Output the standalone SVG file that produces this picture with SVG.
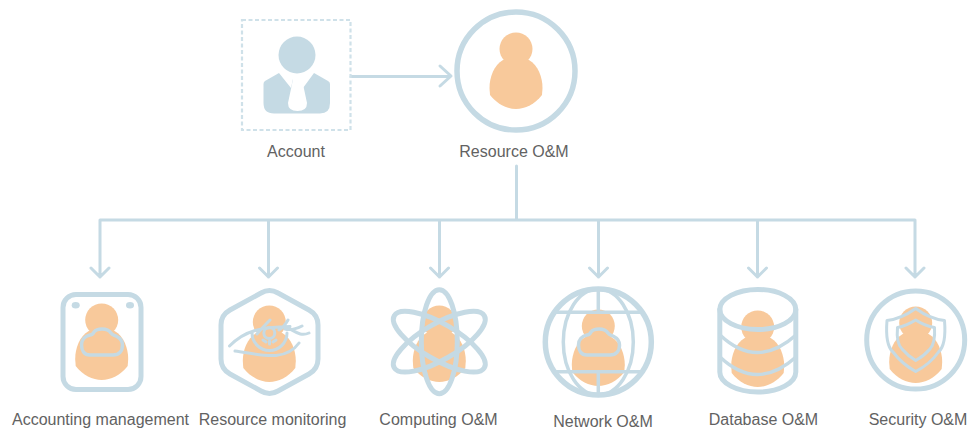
<svg xmlns="http://www.w3.org/2000/svg" xmlns:xlink="http://www.w3.org/1999/xlink" width="971" height="429" viewBox="0 0 971 429">
<style>
.l{fill:none;stroke:#c5dae4;stroke-linecap:round;stroke-linejoin:round}
.w5{stroke-width:5}
.w3{stroke-width:3.5}
.w2{stroke-width:3}
.p{fill:#f8c99b}
text{font-family:"Liberation Sans",Arial,sans-serif;font-size:16px;fill:#626262;text-anchor:middle}
</style>
<defs>
<g id="person"><circle class="p" cx="0" cy="0" r="16.5"/><path class="p" d="M-13,11C-22,16-26.5,28-26.5,39L-26,46C-19,55-9,60 0,60C9,60 19,55 26,46L26.5,39C26.5,28 22,16 13,11Z"/></g>
<path id="cloud" class="l w3" d="M90,355C84,355 81.5,350 81.5,345C81.5,340 85,336 90,335C92,335 93,334 94,332C96,329.500 99,329 102,329C106,329 109,330 111,333C112,335 114,335 116,336C120,338 122.500,341 122.500,345C122.500,351 119,355 113,355Z"/>
</defs>
<rect width="971" height="429" fill="#fff"/>
<g id="connectors">
<path class="l w2" d="M351,76.500H450M440,66L451,76L440,86"/>
<path class="l w2" d="M516.500,166V220M100,220H915M100,220V277M91,268L100,277L109,268M268.500,220V277M259.500,268L268.500,277L277.500,268M439.500,220V277M430.500,268L439.500,277L448.500,268M598.500,220V277M589.500,268L598.500,277L607.500,268M757.500,220V277M748.500,268L757.500,277L766.500,268M915,220V277M906,268L915,277L924,268"/>
</g>
<g id="account">
<rect x="242" y="20" width="108.500" height="110" fill="none" stroke="#cfe1e9" stroke-width="2.200" stroke-dasharray="4 2.500"/>
<circle cx="297" cy="55" r="18.500" fill="#c5dae4"/>
<path fill="#c5dae4" d="M279,73L265,81Q263.500,82 263.500,84V103Q263.500,113.500 274,113.500H320Q330,113.500 330,103V84Q330,82 328,81L314,73L303,88L301,79H293L291,88Z"/>
<path fill="#fff" d="M293.300,78H301.700L307,103Q307,111 297.500,111Q288,111 288,103Z"/>
<text x="296" y="157">Account</text>
</g>
<g id="resource-om">
<circle class="l" stroke-width="5.500" cx="516" cy="71" r="59"/>
<use xlink:href="#person" href="#person" x="516" y="49"/>
<text x="514" y="157">Resource O&amp;M</text>
</g>
<g id="accounting-management">
<use xlink:href="#person" href="#person" x="101.700" y="320"/>
<rect class="l w5" x="63" y="294.500" width="78" height="95" rx="13"/>
<ellipse cx="75.700" cy="305.300" rx="4" ry="3.300" fill="#c5dae4"/>
<ellipse cx="130" cy="305.300" rx="4" ry="3.300" fill="#c5dae4"/>
<use xlink:href="#cloud" href="#cloud"/>
<text x="100.500" y="425">Accounting management</text>
</g>
<g id="resource-monitoring">
<use xlink:href="#person" href="#person" x="269.300" y="322"/>
<path class="l w5" d="M261,293Q269.500,288 278,293L309,310Q318,315 318,325V359Q318,369 309,374L278,391Q269.500,396 261,391L230,374Q221,369 221,359V325Q221,315 230,310Z"/>
<path class="l w2" d="M229.500,346C245,330 262,327 290,326.500M235,351C258,354 285,363 299,343M252,333A17.500,17.500 0 0 0 287,333M270,320Q262,328 257,334M288,320Q284,327 279,330M302,326Q292,331 285,329M309,333C300,337 295,331 288,328M263,340L266,342M276,340L273,342M269.500,341V344"/>
<circle class="l w2" cx="269.300" cy="333" r="5.500"/>
<text x="272.500" y="425">Resource monitoring</text>
</g>
<g id="computing-om">
<use xlink:href="#person" href="#person" x="439.300" y="322"/>
<g class="l w5"><ellipse cx="439.300" cy="341.700" rx="18" ry="52"/><ellipse cx="439.300" cy="341.700" rx="18" ry="52" transform="rotate(60 439.300 341.700)"/><ellipse cx="439.300" cy="341.700" rx="18" ry="52" transform="rotate(-60 439.300 341.700)"/></g>
<text x="438.500" y="425">Computing O&amp;M</text>
</g>
<g id="network-om">
<use xlink:href="#person" href="#person" x="598.300" y="326"/>
<circle class="l" stroke-width="5.500" cx="598.300" cy="342" r="53"/>
<ellipse class="l w3" cx="598.300" cy="342" rx="35" ry="53"/>
<path class="l w3" d="M555,312.300H642M555,371.700H642M598.300,290V312M598.300,372V394"/>
<use xlink:href="#cloud" href="#cloud" x="497"/>
<text x="603" y="427">Network O&amp;M</text>
</g>
<g id="database-om">
<use xlink:href="#person" href="#person" x="757.700" y="327"/>
<ellipse class="l w5" cx="757.800" cy="309.500" rx="38" ry="20"/>
<path class="l w5" d="M719.800,309.500V372A38,20 0 0 0 795.800,372V309.500"/>
<path class="l w3" d="M720,335Q757,370 796,335M720,357Q757,392 796,357"/>
<text x="763.500" y="425">Database O&amp;M</text>
</g>
<g id="security-om">
<use xlink:href="#person" href="#person" x="915.700" y="323"/>
<circle class="l w5" cx="915.700" cy="340" r="49"/>
<path class="l w2" d="M915.700,308.500Q901,319 887,320.500Q885,345 893,352Q902,364 915.700,371.500Q930,364 938.500,352Q946.500,345 944.500,320.500Q930,319 915.700,308.500Z"/>
<path class="l w2" d="M915.700,320Q906,326 897.500,327.500Q896,343 902,349Q908,356 915.700,360.500Q924,356 930,349Q935.500,343 934.500,327.500Q925,326 915.700,320Z"/>
<text x="918" y="425">Security O&amp;M</text>
</g>
</svg>
